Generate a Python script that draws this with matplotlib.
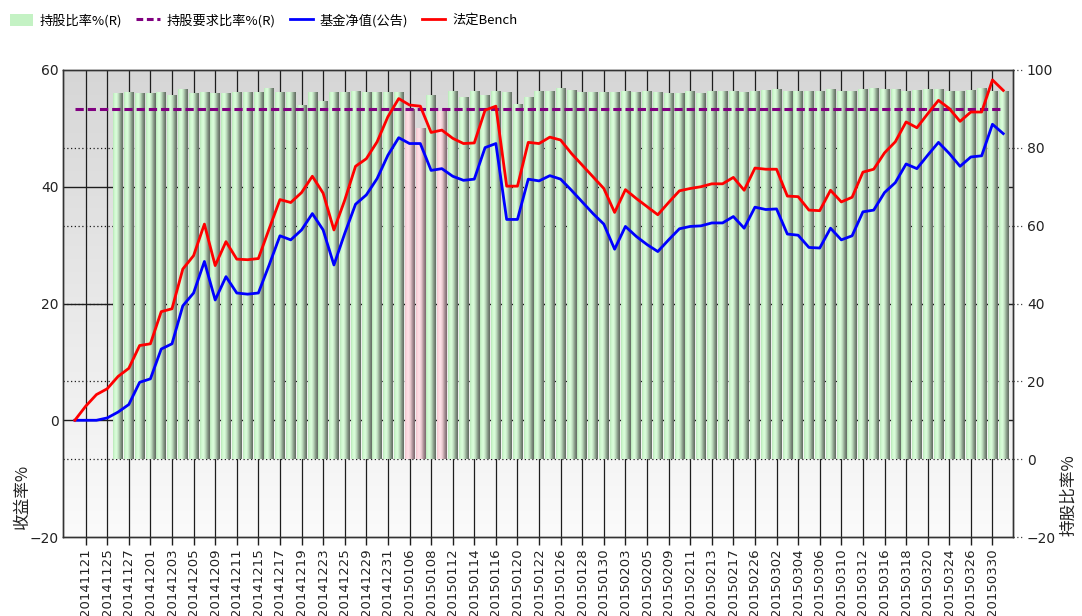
import numpy as np
import matplotlib.pyplot as plt
from matplotlib.lines import Line2D
from matplotlib.patches import Patch
from matplotlib.colors import LinearSegmentedColormap
from matplotlib.transforms import blended_transform_factory

plt.rcParams['font.family'] = ['DejaVu Sans', 'Noto Sans CJK SC']
CJK = ['Noto Sans CJK SC', 'DejaVu Sans']

# trading days, first one is the base day (value 0)
dates = [
    '20141120', '20141121', '20141124', '20141125', '20141126', '20141127', '20141128',
    '20141201', '20141202', '20141203', '20141204', '20141205',
    '20141208', '20141209', '20141210', '20141211', '20141212',
    '20141215', '20141216', '20141217', '20141218', '20141219',
    '20141222', '20141223', '20141224', '20141225', '20141226',
    '20141229', '20141230', '20141231',
    '20150105', '20150106', '20150107', '20150108', '20150109',
    '20150112', '20150113', '20150114', '20150115', '20150116',
    '20150119', '20150120', '20150121', '20150122', '20150123',
    '20150126', '20150127', '20150128', '20150129', '20150130',
    '20150202', '20150203', '20150204', '20150205', '20150206',
    '20150209', '20150210', '20150211', '20150212', '20150213',
    '20150216', '20150217', '20150225', '20150226', '20150227',
    '20150302', '20150303', '20150304', '20150305', '20150306',
    '20150309', '20150310', '20150311', '20150312', '20150313',
    '20150316', '20150317', '20150318', '20150319', '20150320',
    '20150323', '20150324', '20150325', '20150326', '20150327',
    '20150330', '20150331',
]

# 基金净值(公告) cumulative return %
nav = [
    0, 0, 0, 0.4, 1.4, 2.7, 6.5, 7.1, 12.2, 13.1, 19.6, 21.8, 27.2, 20.6, 24.6,
    21.8, 21.6, 21.8, 26.6, 31.6, 30.9, 32.6, 35.4, 32.6, 26.6, 32.0, 37.0, 38.6,
    41.4, 45.4, 48.4, 47.4, 47.4, 42.8, 43.1, 41.8, 41.1, 41.3, 46.7, 47.4, 34.4,
    34.4, 41.3, 41.0, 41.9, 41.3, 39.4, 37.4, 35.4, 33.6, 29.3, 33.2, 31.5, 30.1,
    28.9, 30.9, 32.8, 33.2, 33.3, 33.8, 33.8, 34.9, 32.9, 36.5, 36.1, 36.2, 31.9,
    31.7, 29.6, 29.5, 32.9, 30.9, 31.6, 35.7, 36.0, 39.0, 40.7, 43.9, 43.1, 45.4,
    47.6, 45.7, 43.5, 45.1, 45.3, 50.7, 49.1,
]

# 法定Bench cumulative return %
bench = [
    0, 2.4, 4.4, 5.4, 7.5, 8.9, 12.8, 13.1, 18.6, 19.1, 25.9, 28.2, 33.6, 26.5,
    30.6, 27.6, 27.5, 27.7, 32.8, 37.8, 37.3, 39.0, 41.8, 38.9, 32.6, 37.7, 43.5,
    44.8, 47.7, 52.0, 55.1, 54.0, 53.8, 49.3, 49.7, 48.3, 47.4, 47.5, 53.1, 53.8,
    40.1, 40.1, 47.6, 47.4, 48.5, 48.0, 45.7, 43.7, 41.7, 39.7, 35.6, 39.5, 38.0,
    36.6, 35.2, 37.3, 39.3, 39.7, 40.0, 40.5, 40.5, 41.6, 39.4, 43.2, 43.0, 43.0,
    38.4, 38.3, 36.0, 35.9, 39.4, 37.4, 38.2, 42.5, 43.0, 45.8, 47.7, 51.1, 50.1,
    52.5, 54.8, 53.4, 51.2, 52.8, 52.8, 58.3, 56.5,
]

# 持股比率% (R), from 20141126 on
holding = [
    93.8, 94.2, 93.8, 93.8, 94.2, 93.4, 94.9, 93.8, 94.2, 93.8, 93.8, 94.2, 94.2,
    94.2, 95.3, 94.2, 94.2, 90.7, 94.2, 91.9, 94.2, 94.2, 94.4, 94.2, 94.2, 94.2,
    94.2, 89.7, 84.8, 93.4, 89.3, 94.4, 93.0, 94.4, 93.4, 94.4, 94.1, 91.2, 93.0,
    94.4, 94.4, 95.1, 94.6, 94.2, 94.2, 94.2, 94.2, 94.4, 94.2, 94.4, 94.2, 94.0,
    93.8, 94.4, 93.8, 94.4, 94.4, 94.4, 94.2, 94.4, 94.6, 94.9, 94.4, 94.4, 94.4,
    94.4, 94.9, 94.4, 94.4, 94.9, 95.3, 94.9, 94.9, 94.4, 94.6, 94.9, 94.9, 94.4,
    94.4, 94.6, 95.3, 94.4, 94.4,
]

required = 90  # 持股要求比率% (R)

left_ticks = [-20, 0, 20, 40, 60]
right_ticks = [-20, 0, 20, 40, 60, 80, 100]

x = np.arange(len(dates)) - 1
bar_x = x[len(x) - len(holding):]
tick_x = x[1::2]
tick_labels = dates[1::2]

fig = plt.figure(figsize=(10.82, 6.16), dpi=100)
ax = fig.add_axes([0.0582, 0.1282, 0.878, 0.7582])
ax2 = ax.twinx()
ax.set_zorder(ax2.get_zorder() + 1)
ax.patch.set_visible(False)

xlim = (-2.1, 85.9)

# plot area background gradient
bg = LinearSegmentedColormap.from_list('bg', ['#d6d6d6', '#fbfbfb'])
ax2.imshow(np.linspace(0, 1, 256).reshape(-1, 1), cmap=bg, extent=(0, 1, 0, 1),
           transform=ax2.transAxes, aspect='auto', zorder=0)

# grid behind the bars
ax2.vlines(tick_x, -20, 100, colors='#1e1e1e', lw=0.9, zorder=0.5)
trl = blended_transform_factory(ax2.transAxes, ax.transData)
for v in [0, 20, 40]:
    ax2.plot([0, 1], [v, v], transform=trl, color='#1e1e1e', lw=1.0, zorder=0.6)
trr = blended_transform_factory(ax2.transAxes, ax2.transData)
for v in right_ticks:
    if -20 < v < 100:
        ax2.plot([0, 1], [v, v], transform=trr, color='#1e1e1e', lw=0.9,
                 ls=(0, (1, 2)), zorder=0.6)
    ax2.plot([1, 1.012], [v, v], transform=trr, color='#444444', lw=0.9,
             ls=(0, (1, 2)), clip_on=False)

# cylinder-like bars
green = LinearSegmentedColormap.from_list('g', [
    (0, '#b8e8b8'), (0.15, '#d0f8d0'), (0.35, '#dcffdc'), (0.55, '#bedcbe'),
    (0.72, '#94aa94'), (0.88, '#748274'), (1, '#646e64')])
pink = LinearSegmentedColormap.from_list('p', [
    (0, '#f0c4cc'), (0.15, '#fcd8e0'), (0.35, '#ffe2e8'), (0.55, '#e8c8ce'),
    (0.72, '#b89ca2'), (0.88, '#907a80'), (1, '#7e6a70')])
grad = np.linspace(0, 1, 48).reshape(1, -1)
bw = 0.88
for xi, h in zip(bar_x, holding):
    ax2.imshow(grad, cmap=pink if h < required else green,
               extent=(xi - bw / 2, xi + bw / 2, 0, h), aspect='auto',
               interpolation='bilinear', zorder=2)

ax2.plot([x[0], x[-1]], [required, required], color='#800080', lw=2.2,
         ls=(0, (2.7, 1.3)), zorder=3)

ax.plot(x, nav, color='#0000ff', lw=2.0, zorder=3)
ax.plot(x, bench, color='#ff0000', lw=2.0, zorder=3)

ax.set_xlim(*xlim)
ax.set_ylim(-20, 60)
ax2.set_ylim(-20, 100)
ax2.set_xlim(*xlim)

ax.set_yticks(left_ticks)
ax2.set_yticks(right_ticks)
ax.tick_params(axis='y', length=0, pad=3, labelsize=10, labelcolor='#222222')
ax2.tick_params(axis='y', length=0, pad=10, labelsize=10, labelcolor='#222222')
ax.set_xticks(tick_x, tick_labels, rotation=90)
ax.tick_params(axis='x', length=6, width=1, color='#1e1e1e', pad=2,
               labelsize=9.5, labelcolor='#222222')

for a in (ax, ax2):
    for s in a.spines.values():
        s.set_color('#333333')
        s.set_linewidth(1)

ax.set_ylabel('收益率%', fontsize=12, family=CJK, color='#222222')
ax.yaxis.set_label_coords(-0.034, 0.086)
ax2.set_ylabel('持股比率%', fontsize=12, family=CJK, color='#222222')
ax2.yaxis.set_label_coords(1.05, 0.09)

handles = [
    Patch(facecolor='#c4f2c4', edgecolor='none'),
    Line2D([], [], color='#800080', lw=2.2, ls=(0, (2.2, 1.2))),
    Line2D([], [], color='#0000ff', lw=2.0),
    Line2D([], [], color='#ff0000', lw=2.0),
]
labels = ['持股比率%(R)', '持股要求比率%(R)', '基金净值(公告)', '法定Bench']
fig.legend(handles, labels, loc='center left', bbox_to_anchor=(0.009, 0.967),
           ncol=4, frameon=False, borderaxespad=0, borderpad=0,
           handlelength=1.75, handleheight=1.0, handletextpad=0.5,
           columnspacing=1.1, prop={'family': CJK, 'size': 9.5})

fig.savefig('out.png', dpi=100)
